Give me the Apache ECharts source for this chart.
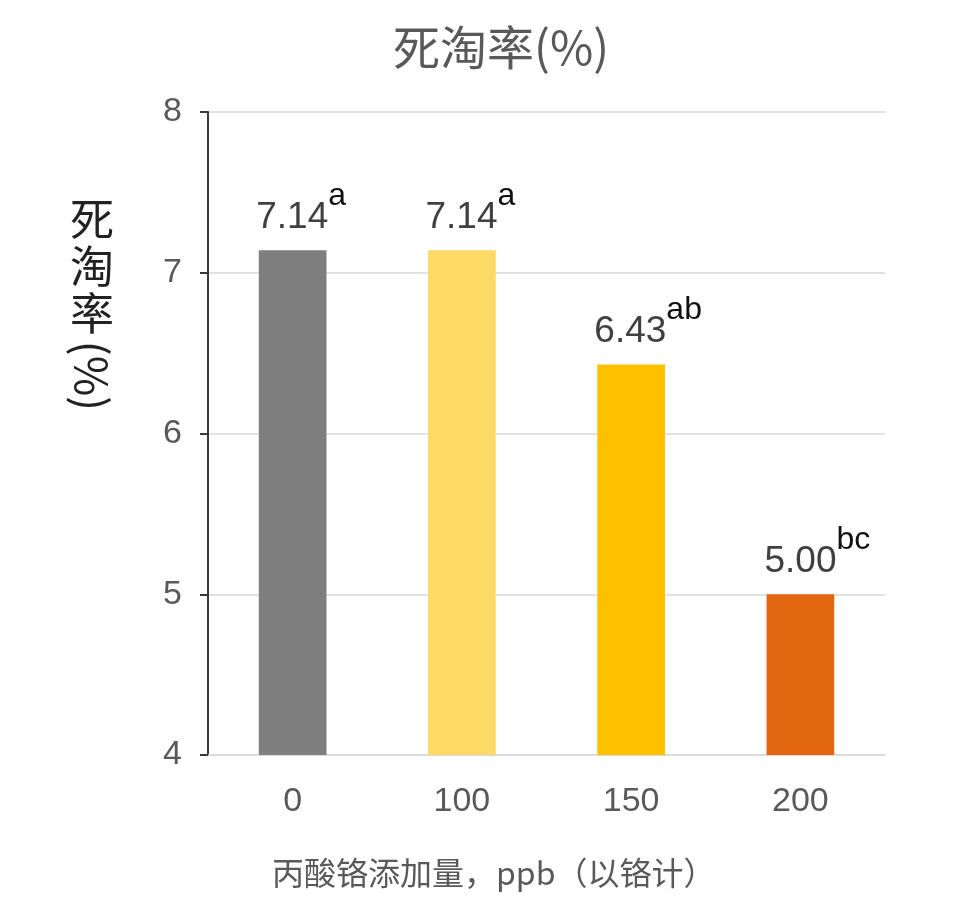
<!DOCTYPE html>
<html><head><meta charset="utf-8">
<script src="https://cdn.jsdelivr.net/npm/echarts@6/dist/echarts.min.js"></script>
<style>html,body{margin:0;padding:0;background:#fff}#c{width:975px;height:924px}</style>
</head><body><div id="c"></div>
<script>
const categories = ['0', '100', '150', '200'];
const values = [7.14, 7.14, 6.43, 5.00];
const superscripts = ['a', 'a', 'ab', 'bc'];
const barColors = ['#7F7F7F', '#FFD966', '#FFC000', '#E2650F'];
const yTicks = [4, 5, 6, 7, 8];
const titleText = '死淘率(%)';
const yNameMain = '死\n淘\n率';
const yNameUnit = '(%)';
const xName = '丙酸铬添加量，ppb（以铬计）';

const LAT = '"Liberation Sans", Arial, "Noto Sans CJK SC", sans-serif';
const CJK = '"Noto Sans CJK SC", "Liberation Sans", sans-serif';

const chart = echarts.init(document.getElementById('c'));
chart.setOption({
  animation: false,
  backgroundColor: '#fff',
  grid: { left: 208, right: 90, top: 112, bottom: 169, containLabel: false },
  xAxis: {
    type: 'category',
    data: categories,
    axisLine: { lineStyle: { color: '#D9D9D9', width: 1.5 } },
    axisTick: { show: false },
    axisLabel: { color: '#595959', fontSize: 34, fontFamily: LAT, margin: 30 }
  },
  yAxis: {
    type: 'value',
    min: yTicks[0], max: yTicks[yTicks.length - 1], interval: 1,
    axisLine: { show: true, lineStyle: { color: '#3A3A3A', width: 2 } },
    axisTick: { show: true, inside: false, length: 8, lineStyle: { color: '#3A3A3A', width: 2 } },
    splitLine: { lineStyle: { color: '#D9D9D9', width: 1.5 } },
    axisLabel: { color: '#595959', fontSize: 34, fontFamily: LAT, margin: 26 }
  },
  series: [{
    type: 'bar',
    barWidth: '40%',
    data: values.map((v, i) => ({
      value: v,
      itemStyle: { color: barColors[i] },
      label: { offset: [superscripts[i].length * 8.5, 0] }
    })),
    label: {
      show: true,
      position: 'top',
      distance: 14,
      formatter: p => '{v|' + p.value.toFixed(2) + '}{s|' + superscripts[p.dataIndex] + '}',
      rich: {
        v: { fontSize: 37, lineHeight: 56, color: '#404040', fontFamily: LAT, verticalAlign: 'bottom' },
        s: { fontSize: 32, lineHeight: 32, color: '#111', fontFamily: LAT, verticalAlign: 'top' }
      }
    }
  }],
  graphic: [
    { type: 'text', left: 393, top: 24, style: { text: titleText, fill: '#595959', font: '47px ' + CJK } },
    { type: 'text', x: 92, y: 196, style: { text: yNameMain, font: '44px ' + CJK, fill: '#222', align: 'center', verticalAlign: 'top', lineHeight: 47 } },
    { type: 'text', x: 92, y: 376, rotation: -Math.PI / 2, style: { text: yNameUnit, font: '44px ' + CJK, fill: '#222', align: 'center', verticalAlign: 'middle' } },
    { type: 'text', left: 272, top: 857, style: { text: xName, font: '32px ' + CJK, fill: '#595959' } }
  ]
});
</script></body></html>
